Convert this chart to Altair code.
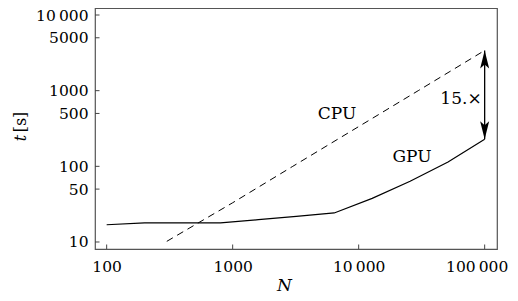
import altair as alt
import pandas as pd

# GPU timings (solid line)
gpu_n = [100, 200, 400, 800, 1600, 3200, 6400, 12800, 25600, 51200, 100000]
gpu_t = [16.9, 17.9, 17.9, 17.9, 19.7, 21.8, 24.2, 37.7, 63.5, 114, 228]

# CPU timings (dashed line)
cpu_n = [300, 1000, 3000, 10000, 30000, 100000]
cpu_t = [10.2, 33, 100, 335, 1010, 3400]

x_ticks = [100, 1000, 10000, 100000]
y_ticks = [10, 50, 100, 500, 1000, 5000, 10000]

labels = ["CPU", "GPU", "15.×"]
label_n = [6730, 26500, 64900]
label_t = [490, 134, 785]

arrow_n = [100000]
arrow_top = [3400]
arrow_bot = [228]

FONT = "DejaVu Serif"
W, H = 402, 241

xs = alt.Scale(type="log", domain=[80.8, 125300], nice=False)
ys = alt.Scale(type="log", domain=[8.08, 12375], nice=False)

lbl = ("datum.value >= 10000 ? replace(format(datum.value, ','), ',', '\u2009') "
       ": format(datum.value, 'd')")

xa = alt.Axis(
    values=x_ticks, labelExpr=lbl, ticks=False, domain=False, grid=False,
    labelFont=FONT, labelFontSize=15.5, labelColor="black", labelPadding=10,
    labelOffset={"condition": {"test": "datum.value >= 100000", "value": -8}, "value": 0},
    title="N", titleFont=FONT, titleFontStyle="italic", titleFontWeight="normal",
    titleFontSize=17, titleColor="black", titleX=189, titleY=41,
    titleBaseline="alphabetic", titleAlign="center")
ya = alt.Axis(
    values=y_ticks, labelExpr=lbl, ticks=False, domain=False, grid=False,
    labelFont=FONT, labelFontSize=15.5, labelColor="black", labelPadding=7,
    title="")

def X(f="N:Q"):
    return alt.X(f, scale=xs, axis=xa, title="N")

def Y(f="t:Q"):
    return alt.Y(f, scale=ys, axis=ya, title="")

gpu_df = pd.DataFrame({"N": gpu_n, "t": gpu_t})
cpu_df = pd.DataFrame({"N": cpu_n, "t": cpu_t})

gpu = alt.Chart(gpu_df).mark_line(color="black", strokeWidth=1.2).encode(x=X(), y=Y())

cpu = alt.Chart(cpu_df).mark_line(color="black", strokeWidth=1, strokeDash=[7, 5]).encode(
    x=X(), y=Y())

xt = alt.Chart(pd.DataFrame({"N": x_ticks})).mark_rule(color="#444", strokeWidth=1).encode(
    x=X(), y=alt.value(H), y2=alt.value(H - 4.5))
yt = alt.Chart(pd.DataFrame({"t": y_ticks})).mark_rule(color="#444", strokeWidth=1).encode(
    y=Y(), x=alt.value(0), x2=alt.value(4.5))

arrow_df = pd.DataFrame({"N": arrow_n, "t": arrow_top, "t2": arrow_bot})
arrow = alt.Chart(arrow_df).mark_rule(color="black", strokeWidth=1.3).encode(
    x=X(), y=Y(), y2="t2:Q")
head_path = "M0,-1 L0.5,1 L0,0.55 L-0.5,1 Z"
head_up = alt.Chart(pd.DataFrame({"N": arrow_n, "t": arrow_top})).mark_point(
    shape=head_path, size=324, filled=True, color="black", opacity=1, yOffset=9
).encode(x=X(), y=Y())
head_down = alt.Chart(pd.DataFrame({"N": arrow_n, "t": arrow_bot})).mark_point(
    shape=head_path, size=324, filled=True, color="black", opacity=1, yOffset=-9, angle=180
).encode(x=X(), y=Y())

txt = alt.Chart(pd.DataFrame({"N": label_n, "t": label_t, "lab": labels})).mark_text(
    font=FONT, fontSize=17, color="black", align="center", baseline="middle"
).encode(x=X(), y=Y(), text="lab:N")

ytitle_t = alt.Chart(pd.DataFrame({"a": [0]})).mark_text(
    text="t", font=FONT, fontSize=16, fontStyle="italic", color="black",
    angle=270, align="center", baseline="middle"
).encode(x=alt.value(-74), y=alt.value(138 - 8))
ytitle_s = alt.Chart(pd.DataFrame({"a": [0]})).mark_text(
    text="[s]", font=FONT, fontSize=16, color="black",
    angle=270, align="center", baseline="middle"
).encode(x=alt.value(-74), y=alt.value(122 - 8))

chart = alt.layer(gpu, cpu, xt, yt, arrow, head_up, head_down, txt, ytitle_t, ytitle_s).properties(
    width=W, height=H,
    autosize=alt.AutoSizeParams(type="none"),
    padding={"left": 87, "top": 0, "right": 13, "bottom": 44},
).configure_view(stroke="#555", strokeWidth=1.2)

chart.save("out.html", embed_options={"renderer": "svg", "actions": False})
